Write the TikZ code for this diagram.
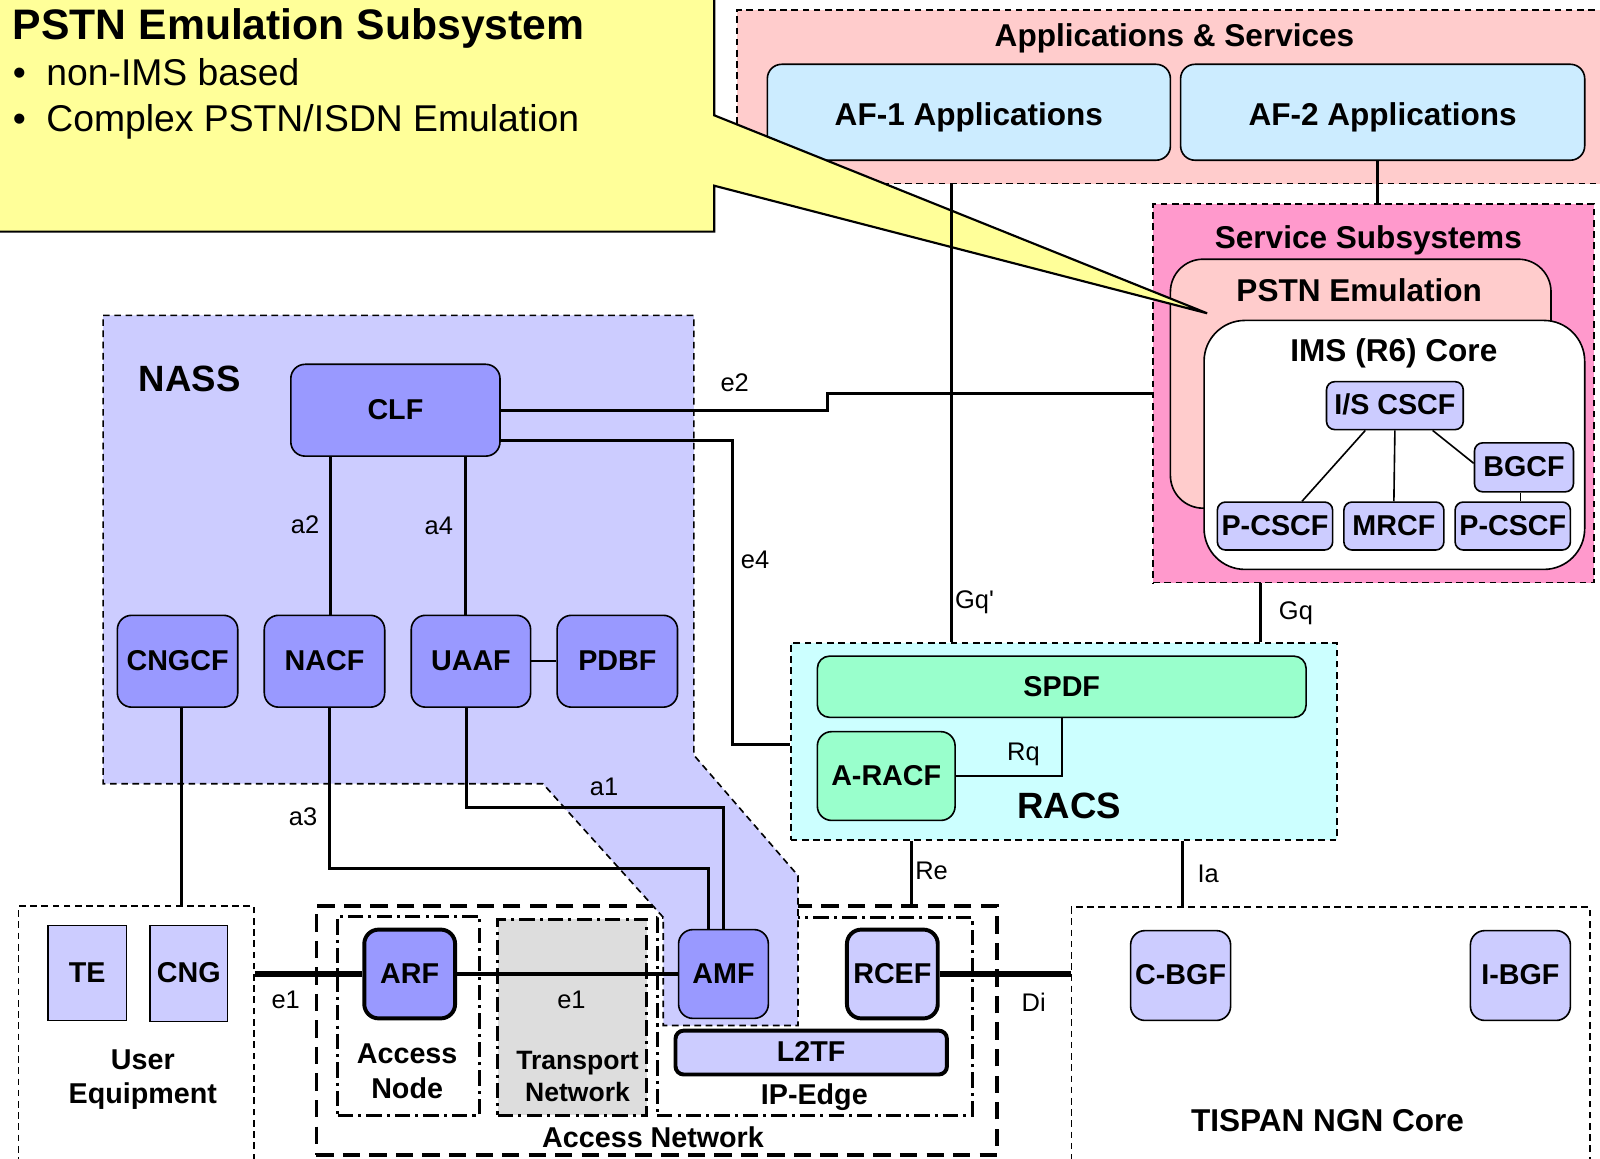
\documentclass[tikz,border=0pt]{standalone}
\usepackage{fontspec}
\setmainfont{Liberation Sans}

\definecolor{callyellow}{HTML}{FFFF99}
\definecolor{appspink}{HTML}{FFCCCC}
\definecolor{afblue}{HTML}{CCECFF}
\definecolor{ssspink}{HTML}{FF99CC}
\definecolor{nassfill}{HTML}{CCCCFF}
\definecolor{nassnode}{HTML}{9999FF}
\definecolor{racsfill}{HTML}{CCFFFF}
\definecolor{racsnode}{HTML}{99FFCC}
\definecolor{transgray}{HTML}{DDDDDD}

\begin{document}
\begin{tikzpicture}[x=0.1mm,y=-0.1mm,
  region/.style={draw,line width=0.45pt,dash pattern=on 0.65mm off 0.45mm,inner sep=0},
  dashdot/.style={draw,line width=0.85pt,dash pattern=on 1.5mm off 0.5mm on 0.3mm off 0.5mm,inner sep=0},
  fn/.style={draw,line width=0.45pt,rounded corners=1.4mm,inner sep=0,text height=0.52em,text depth=0pt,
    font=\fontsize{8}{9.6}\selectfont\bfseries},
  thickfn/.style={fn,line width=1.1pt},
  imsfn/.style={fn,fill=nassfill,rounded corners=0.8mm,minimum height=4.7mm},
  affn/.style={fn,fill=afblue,minimum height=9.4mm,text height=0.72em,font=\fontsize{8.8}{10.5}\selectfont\bfseries},
  conn/.style={line width=0.85pt},
  thinconn/.style={line width=0.45pt},
  fatconn/.style={line width=1.5pt},
  lbl/.style={inner sep=0,text height=0.72em,text depth=0pt,yshift=0.4mm,font=\fontsize{7.1}{8.5}\selectfont},
  head/.style={inner sep=0,text height=0.59em,text depth=0pt,font=\fontsize{8.8}{10.5}\selectfont\bfseries},
  big/.style={inner sep=0,text height=0.72em,text depth=0pt,font=\fontsize{10.2}{12}\selectfont\bfseries},
  txt/.style={inner sep=0,align=center,font=\fontsize{8}{9.7}\selectfont\bfseries},
]
\fill[white] (0,0) rectangle (1568,1135);
\useasboundingbox (0,0) rectangle (1568,1135);

% applications & services
\node[region,fill=appspink,minimum width=85.8mm,minimum height=17mm] (apps) at (1151,95) {};
\node[head] (appstitle) at (1151,35) {Applications \& Services};
\node[affn,minimum width=39.5mm] (afone) at (949.5,110) {AF-1 Applications};
\node[affn,minimum width=39.6mm] (aftwo) at (1355,110) {AF-2 Applications};

% service subsystems
\node[region,fill=ssspink,minimum width=43.2mm,minimum height=37.1mm] (sss) at (1346,385.5) {};
\node[head] (ssstitle) at (1341,233) {Service Subsystems};
\node[draw,line width=0.45pt,rounded corners=3.2mm,fill=appspink,minimum width=37.3mm,minimum height=24.4mm] (pstn) at (1333.5,376) {};
\node[head] (pstntitle) at (1332,285) {PSTN Emulation};
\node[draw,line width=0.45pt,rounded corners=4mm,fill=white,minimum width=37.3mm,minimum height=24.4mm] (ims) at (1366.5,436) {};
\node[head] (imstitle) at (1366,344) {IMS (R6) Core};

% callout
\draw[line width=0.6pt,fill=callyellow] (-10,-10) -- (700,-10) -- (700,113) -- (1183,307) -- (700,182) -- (700,227) -- (-10,227) -- cycle;
\node[anchor=base west,inner sep=0,font=\fontsize{11.9}{14}\selectfont\bfseries] (calltitle) at (12,39) {PSTN Emulation Subsystem};
\node[anchor=base west,inner sep=0,font=\fontsize{10.4}{12.5}\selectfont] (callone) at (12,84) {\textbullet\hspace{2mm}non-IMS based};
\node[anchor=base west,inner sep=0,font=\fontsize{10.4}{12.5}\selectfont] (calltwo) at (12,129) {\textbullet\hspace{2mm}Complex PSTN/ISDN Emulation};

% access network and core
\node[region,minimum width=23.1mm,minimum height=26mm] (ue) at (133.5,1018) {};
\node[region,line width=1pt,dash pattern=on 1.7mm off 0.9mm,minimum width=66.7mm,minimum height=24.4mm] (accnet) at (643.5,1010) {};
\node[dashdot,minimum width=13.9mm,minimum height=19.5mm] (accnode) at (400.5,995.5) {};
\node[dashdot,fill=transgray,minimum width=14.6mm,minimum height=19.2mm] (transport) at (561,997) {};
\node[dashdot,minimum width=30.9mm,minimum height=19.4mm] (ipedge) at (798.5,996) {};
\node[region,minimum width=50.8mm,minimum height=26mm] (tispan) at (1304,1019) {};

% RACS
\node[region,fill=racsfill,minimum width=53.5mm,minimum height=19.3mm] (racs) at (1042.5,726.5) {};

% NASS
\draw[line width=0.45pt,dash pattern=on 0.65mm off 0.45mm,fill=nassfill] (101,309) -- (680,309) -- (680,740) -- (782,858)
  -- (782,1005) -- (650,1005) -- (650,899) -- (532,768) -- (101,768) -- cycle;
\node[big] (nasstitle) at (186,371) {NASS};

% functions
\node[fn,fill=nassnode,minimum width=20.5mm,minimum height=9mm] (clf) at (387.5,402) {CLF};
\node[fn,fill=nassnode,minimum width=11.8mm,minimum height=9mm] (cngcf) at (174,648) {CNGCF};
\node[fn,fill=nassnode,minimum width=11.8mm,minimum height=9mm] (nacf) at (318,648) {NACF};
\node[fn,fill=nassnode,minimum width=11.7mm,minimum height=9mm] (uaaf) at (461.5,648) {UAAF};
\node[fn,fill=nassnode,minimum width=11.8mm,minimum height=9mm] (pdbf) at (605,648) {PDBF};

\node[imsfn,minimum width=13.4mm] (iscscf) at (1367,397.5) {I/S CSCF};
\node[imsfn,minimum width=9.7mm,minimum height=4.8mm] (bgcf) at (1493.5,458) {BGCF};
\node[imsfn,minimum width=11.3mm] (pcscfa) at (1249.5,515.5) {P-CSCF};
\node[imsfn,minimum width=9.8mm] (mrcf) at (1366,515.5) {MRCF};
\node[imsfn,minimum width=11.3mm] (pcscfb) at (1482.5,515.5) {P-CSCF};

\node[fn,fill=racsnode,rounded corners=1.2mm,minimum width=47.9mm,minimum height=6mm] (spdf) at (1040.5,673) {SPDF};
\node[fn,fill=racsnode,minimum width=13.5mm,minimum height=8.7mm] (aracf) at (868.5,760.5) {A-RACF};
\node[big] (racstitle) at (1048,789) {RACS};

\node[fn,fill=nassfill,sharp corners,minimum width=7.7mm,minimum height=9.3mm] (te) at (85.5,953.5) {TE};
\node[fn,fill=nassfill,sharp corners,minimum width=7.6mm,minimum height=9.4mm] (cng) at (185,954) {CNG};
\node[thickfn,fill=nassnode,minimum width=8.9mm,minimum height=8.7mm] (arf) at (401.5,954.5) {ARF};
\node[fn,fill=nassnode,minimum width=8.8mm,minimum height=8.7mm] (amf) at (709,954.5) {AMF};
\node[thickfn,fill=nassfill,minimum width=8.9mm,minimum height=8.7mm] (rcef) at (874.5,954.5) {RCEF};
\node[thickfn,fill=nassfill,rounded corners=0.8mm,minimum width=26.6mm,minimum height=4.3mm] (ltwotf) at (795,1031.5) {L2TF};
\node[fn,fill=nassfill,minimum width=9.8mm,minimum height=8.8mm] (cbgf) at (1157,956) {C-BGF};
\node[fn,fill=nassfill,minimum width=9.8mm,minimum height=8.8mm] (ibgf) at (1490,956) {I-BGF};

\node[txt] (uetitle) at (140,1058) {User\\Equipment};
\node[txt] (accnodetitle) at (399,1050) {Access\\Node};
\node[txt,font=\fontsize{7.4}{8.8}\selectfont\bfseries] (transporttitle) at (566,1055) {Transport\\Network};
\node[txt] (ipedgetitle) at (798,1075) {IP-Edge};
\node[txt] (accnettitle) at (640,1114) {Access Network};
\node[head] (tispantitle) at (1301,1098) {TISPAN NGN Core};

% connectors
\draw[thinconn] ([xshift=-2.9mm]iscscf.south) -- ([xshift=2.65mm]pcscfa.north);
\draw[thinconn] (iscscf.south) -- (mrcf.north);
\draw[thinconn] ([xshift=3.7mm]iscscf.south) -- ([yshift=0.4mm]bgcf.west);
\draw[thinconn] ([xshift=-0.35mm]bgcf.south) -- ([xshift=-0.35mm]bgcf.south |- pcscfb.north);

\draw[conn] ([xshift=-0.5mm]aftwo.south) -- ([xshift=-0.5mm]aftwo.south |- sss.north);
\draw[conn] ([xshift=-21.9mm]apps.south) -- ([xshift=-21.9mm]apps.south |- racs.north);
\draw[conn] ([xshift=-11.1mm]sss.south) -- ([xshift=-11.1mm]sss.south |- racs.north);
\draw[conn] (clf.east) -- ++(320,0) |- (sss.west);
\draw[conn] ([yshift=-3mm]clf.east) -- ++(227,0) |- ([yshift=-0.35mm]racs.west);
\draw[conn] ([xshift=0.6mm]nacf.north) -- ([xshift=0.6mm]nacf.north |- clf.south);
\draw[conn] ([xshift=-0.55mm]uaaf.north) -- ([xshift=-0.55mm]uaaf.north |- clf.south);
\draw[thinconn] (uaaf.east) -- (pdbf.west);
\draw[conn] ([xshift=0.4mm]cngcf.south) -- ([xshift=0.4mm]cngcf.south |- ue.north);
\draw[conn] ([xshift=0.5mm]nacf.south) -- ++(0,157) -| ([xshift=-1.45mm]amf.north);
\draw[conn] ([xshift=-0.45mm]uaaf.south) -- ++(0,98) -| (amf.north);
\draw[thinconn] (aracf.east) -| (spdf.south);
\draw[conn] ([xshift=-14.95mm]racs.south) -- ([xshift=-14.95mm]racs.south |- accnet.north);
\draw[conn] ([xshift=11.65mm]racs.south) -- ([xshift=11.65mm]racs.south |- tispan.north);
\draw[fatconn] (ue.east |- arf.west) -- (arf.west);
\draw[conn] (arf.east) -- (amf.west);
\draw[fatconn] (rcef.east) -- (tispan.west |- rcef.east);

% interface labels
\node[lbl] (etwolbl) at (720,375) {e2};
\node[lbl] (efourlbl) at (740,548) {e4};
\node[lbl] (atwolbl) at (299,514) {a2};
\node[lbl] (afourlbl) at (430,515) {a4};
\node[lbl] (athreelbl) at (297,800) {a3};
\node[lbl] (aonelbl) at (592,771) {a1};
\node[lbl] (gqplbl) at (955,588) {Gq\textquotesingle};
\node[lbl] (gqlbl) at (1270,598) {Gq};
\node[lbl] (rqlbl) at (1003,737) {Rq};
\node[lbl] (relbl) at (913,853) {Re};
\node[lbl] (ialbl) at (1184,856) {Ia};
\node[lbl] (eonelbl) at (280,980) {e1};
\node[lbl] (eonetlbl) at (560,980) {e1};
\node[lbl] (dilbl) at (1013,983) {Di};
\end{tikzpicture}
\end{document}
